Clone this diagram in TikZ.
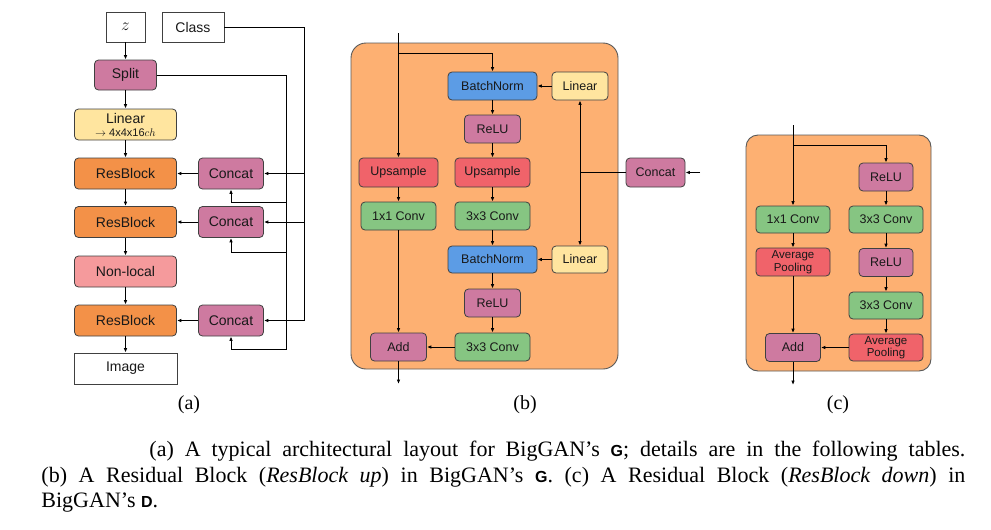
\documentclass[tikz,border=0pt]{standalone}
\usepackage{fontspec}
\setmainfont{Liberation Serif}
\setsansfont{Liberation Sans}
\usepackage{tikz}
\usetikzlibrary{arrows.meta,positioning,calc}
\definecolor{cmag}{RGB}{206,122,160}
\definecolor{corange}{RGB}{243,145,72}
\definecolor{cpink}{RGB}{245,154,156}
\definecolor{cyel}{RGB}{255,229,159}
\definecolor{cblue}{RGB}{92,156,229}
\definecolor{cred}{RGB}{240,99,106}
\definecolor{cgreen}{RGB}{134,197,130}
\definecolor{cpanel}{RGB}{253,176,114}

\begin{document}
\begin{tikzpicture}[x=1pt,y=-1pt,line width=0.9pt,>={Latex[length=4.5pt,width=3.6pt]},
  blk/.style={draw=black!75,line width=0.8pt,rounded corners=4pt,inner sep=0pt,align=center,text=black!90},
  fa/.style={font=\sffamily\fontsize{14}{16}\selectfont},
  fb/.style={font=\sffamily\fontsize{12.5}{14}\selectfont},
  magbox/.style={blk,fill=cmag},
  obox/.style={blk,fill=corange},
  pbox/.style={blk,fill=cpink},
  ybox/.style={blk,fill=cyel},
  bbox/.style={blk,fill=cblue},
  rbox/.style={blk,fill=cred},
  gbox/.style={blk,fill=cgreen},
  wbox/.style={blk,rounded corners=0pt,fill=white},
  sub/.style={anchor=base,font=\fontsize{20}{24}\selectfont}]
\useasboundingbox (0,0) rectangle (991,530);

% (a)
\node[wbox,fa,minimum width=39,minimum height=30] (z) at (125.5,27) {\fontsize{18}{18}\selectfont$z$};
\node[wbox,fa,minimum width=62,minimum height=30] (class) at (193,27) {Class};
\node[magbox,fa,minimum width=62,minimum height=30] (split) at (125.5,75) {Split};
\node[ybox,fa,minimum width=102,minimum height=31] (lin) at (125.5,124.5) {Linear\\[-3pt]{\fontsize{11}{12}\selectfont$\rightarrow$ 4x4x16$ch$}};
\node[obox,fa,minimum width=102,minimum height=31] (rb1) at (125.5,173.5) {ResBlock};
\node[obox,fa,minimum width=102,minimum height=31] (rb2) at (125.5,222) {ResBlock};
\node[pbox,fa,minimum width=102,minimum height=31] (nl) at (125.5,271.5) {Non-local};
\node[obox,fa,minimum width=102,minimum height=31] (rb3) at (125.5,320.5) {ResBlock};
\node[wbox,fa,minimum width=103,minimum height=31] (img) at (125.5,368.5) {Image};
\node[magbox,fa,minimum width=65,minimum height=31] (cc1) at (231,173.5) {Concat};
\node[magbox,fa,minimum width=65,minimum height=31] (cc2) at (231,222) {Concat};
\node[magbox,fa,minimum width=65,minimum height=31] (cc3) at (231,320.5) {Concat};
\foreach \a/\b in {z/split,split/lin,lin/rb1,rb1/rb2,rb2/nl,nl/rb3,rb3/img}
  \draw[->] (\a) -- (\b);
\foreach \i in {1,2,3}
  \draw[->] (cc\i) -- (rb\i);
\coordinate (cbus) at (304,27);
\coordinate (sbus) at (286,75);
\coordinate (s1) at (286,202);
\coordinate (s2) at (286,252);
\coordinate (s3) at (286,349);
\draw[->] (class) -- (cbus) |- (cc3);
\draw[->] (cbus |- cc1) -- (cc1);
\draw[->] (cbus |- cc2) -- (cc2);
\draw[->] (split) -- (sbus) -- (s3) -| (cc3);
\draw[->] (s1) -| (cc1);
\draw[->] (s2) -| (cc2);
\node[sub] (la) at (189,409) {(a)};

% (b)
\draw[fill=cpanel,draw=black!65,rounded corners=15pt] (351,43) rectangle (618,369);
\node[bbox,fb,minimum width=89,minimum height=28] (bn1) at (492.5,86) {BatchNorm};
\node[ybox,fb,minimum width=56,minimum height=28] (lin1) at (580,86) {Linear};
\node[magbox,fb,minimum width=56,minimum height=28] (relu1) at (492.5,129) {ReLU};
\node[rbox,fb,minimum width=79,minimum height=29] (upl) at (398.5,172.5) {Upsample};
\node[rbox,fb,minimum width=75,minimum height=29] (upr) at (492.5,172.5) {Upsample};
\node[magbox,fb,minimum width=59,minimum height=29] (ccb) at (655.5,172.5) {Concat};
\node[gbox,fb,minimum width=75,minimum height=28] (cv1) at (398.5,216) {1x1 Conv};
\node[gbox,fb,minimum width=75,minimum height=28] (cv3a) at (492.5,216) {3x3 Conv};
\node[bbox,fb,minimum width=89,minimum height=27] (bn2) at (492.5,259.5) {BatchNorm};
\node[ybox,fb,minimum width=56,minimum height=27] (lin2) at (580,259.5) {Linear};
\node[magbox,fb,minimum width=56,minimum height=28] (relu2) at (492.5,303) {ReLU};
\node[magbox,fb,minimum width=56,minimum height=28] (addb) at (398.5,347) {Add};
\node[gbox,fb,minimum width=75,minimum height=28] (cv3b) at (492.5,347) {3x3 Conv};
\coordinate (bin) at (398.5,33);
\coordinate (bfork) at (398.5,53);
\coordinate (bout) at (398.5,384);
\coordinate (cin) at (700,172.5);
\coordinate (bj) at (lin1 |- ccb);
\draw[->] (bin) -- (upl);
\draw[->] (bfork) -| (bn1);
\foreach \a/\b in {upl/cv1,cv1/addb,bn1/relu1,relu1/upr,upr/cv3a,cv3a/bn2,bn2/relu2,relu2/cv3b,cv3b/addb,lin1/bn1,lin2/bn2}
  \draw[->] (\a) -- (\b);
\draw[->] (addb) -- (bout);
\draw[->] (cin) -- (ccb);
\draw (ccb) -- (bj);
\draw[->] (bj) -- (lin1);
\draw[->] (bj) -- (lin2);
\node[sub] (lb) at (525,409) {(b)};

% (c)
\draw[fill=cpanel,draw=black!65,rounded corners=12pt] (746,135) rectangle (931,371);
\node[magbox,fb,minimum width=54,minimum height=28] (crelu1) at (886,177) {ReLU};
\node[gbox,fb,minimum width=74,minimum height=27] (ccv1) at (793,219.5) {1x1 Conv};
\node[gbox,fb,minimum width=74,minimum height=27] (ccv3a) at (886,219.5) {3x3 Conv};
\node[rbox,fb,minimum width=74,minimum height=28,font=\sffamily\fontsize{11.5}{12.5}\selectfont] (cpl) at (793,262) {Average\\Pooling};
\node[magbox,fb,minimum width=54,minimum height=28] (crelu2) at (886,262.5) {ReLU};
\node[gbox,fb,minimum width=74,minimum height=27] (ccv3b) at (886,305.5) {3x3 Conv};
\node[rbox,fb,minimum width=74,minimum height=27,font=\sffamily\fontsize{11.5}{12.5}\selectfont] (cpr) at (886,347.5) {Average\\Pooling};
\node[magbox,fb,minimum width=55,minimum height=28] (cadd) at (793,347.5) {Add};
\coordinate (cin2) at (793,125);
\coordinate (cfork) at (793,145);
\coordinate (cout) at (793,385);
\draw[->] (cin2) -- (ccv1);
\draw[->] (cfork) -| (crelu1);
\foreach \a/\b in {ccv1/cpl,cpl/cadd,crelu1/ccv3a,ccv3a/crelu2,crelu2/ccv3b,ccv3b/cpr,cpr/cadd}
  \draw[->] (\a) -- (\b);
\draw[->] (cadd) -- (cout);
\node[sub] (lc) at (838,409) {(c)};

% caption
\node[anchor=north west,text width=924pt,align=justify,inner sep=0pt,font=\fontsize{22}{25.5}\selectfont] (cap) at (41,441)
  {\hspace*{108pt}(a) A typical architectural layout for BigGAN's {\sffamily\bfseries\fontsize{16}{16}\selectfont G}; details are in the following tables.\linebreak
  (b) A Residual Block (\textit{ResBlock up}) in BigGAN's {\sffamily\bfseries\fontsize{16}{16}\selectfont G}. (c) A Residual Block (\textit{ResBlock down}) in\linebreak
  BigGAN's {\sffamily\bfseries\fontsize{16}{16}\selectfont D}.};
\end{tikzpicture}
\end{document}
